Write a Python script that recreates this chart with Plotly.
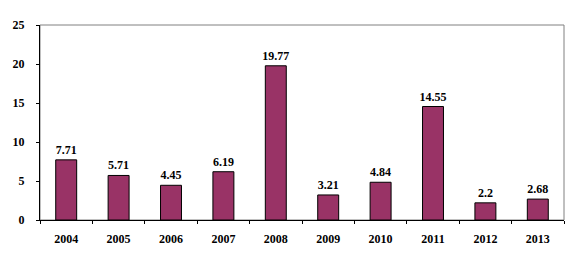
import plotly.graph_objects as go

years = ["2004", "2005", "2006", "2007", "2008", "2009", "2010", "2011", "2012", "2013"]
values = [7.71, 5.71, 4.45, 6.19, 19.77, 3.21, 4.84, 14.55, 2.2, 2.68]
labels = ["7.71", "5.71", "4.45", "6.19", "19.77", "3.21", "4.84", "14.55", "2.2", "2.68"]
y_ticks = [0, 5, 10, 15, 20, 25]

bold = dict(family="Liberation Serif", size=12, color="black", weight="bold")

fig = go.Figure(go.Bar(
    x=years, y=values, text=labels, textposition="outside",
    textfont=bold,
    marker=dict(color="#993366", line=dict(color="black", width=1)),
    width=0.4, cliponaxis=False,
))

fig.update_layout(
    width=577, height=270,
    margin=dict(l=40, r=13, t=25, b=50),
    paper_bgcolor="white", plot_bgcolor="white",
    font=bold, showlegend=False,
    uniformtext=dict(minsize=12, mode="show"),
    shapes=[dict(type="rect", xref="paper", yref="paper", x0=0, y0=0, x1=1, y1=1,
                 line=dict(color="#808080", width=1), layer="below")],
)
fig.update_xaxes(
    type="category", showline=True, linecolor="black", linewidth=1,
    ticks="outside", ticklen=3, tickcolor="black", tickson="boundaries",
    showgrid=False, tickfont=bold, ticklabelstandoff=8,
)
fig.update_yaxes(
    range=[0, 25], tickvals=y_ticks, showline=True, linecolor="black", linewidth=1,
    ticks="outside", ticklen=3, tickcolor="black", showgrid=False, zeroline=False,
    tickfont=bold, ticklabelstandoff=9,
)

fig.write_html("out.html")
